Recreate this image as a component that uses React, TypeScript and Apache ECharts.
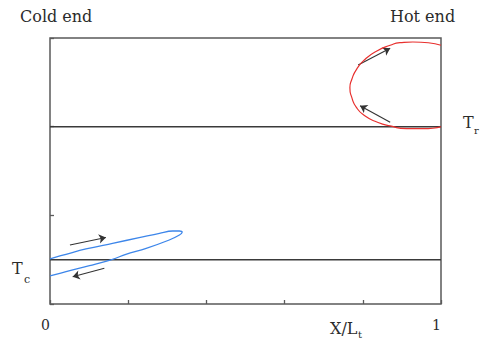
import React, { useEffect, useRef } from "react";
import * as echarts from "echarts";

// Axis ticks along X/Lt (only the ends are labelled)
const xTickValues = [0, 0.2, 0.4, 0.6, 0.8, 1];
const xTickLabels = ["0", "", "", "", "", "1"];

// Temperature levels of the cold and hot reservoirs
const levelTc = 1;
const levelTr = 4;

// Cold-end gas parcel loop (x, temperature)
const coldLoop: [number, number][] = [
  [0, 1.02],
  [0.041, 1.121],
  [0.092, 1.241],
  [0.16, 1.369],
  [0.228, 1.496],
  [0.28, 1.595],
  [0.314, 1.647],
  [0.331, 1.647],
  [0.338, 1.617],
  [0.331, 1.556],
  [0.305, 1.444],
  [0.246, 1.256],
  [0.194, 1.121],
  [0.16, 1.008],
  [0.101, 0.864],
  [0.041, 0.729],
  [0, 0.632],
];

// Hot-end gas parcel loop (x, temperature)
const hotLoop: [number, number][] = [
  [1.0, 5.836],
  [0.928, 5.91],
  [0.895, 5.894],
  [0.87, 5.836],
  [0.836, 5.707],
  [0.806, 5.52],
  [0.784, 5.294],
  [0.772, 5.069],
  [0.767, 4.879],
  [0.772, 4.654],
  [0.784, 4.428],
  [0.806, 4.241],
  [0.836, 4.106],
  [0.87, 4.016],
  [0.912, 3.954],
  [0.954, 3.954],
  [1.0, 3.999],
];

// Direction arrows (from, to)
const coldArrows: [number, number][][] = [
  [[0.051, 1.331], [0.143, 1.5]],
  [[0.139, 0.805], [0.058, 0.615]],
];
const hotArrows: [number, number][][] = [
  [[0.788, 5.391], [0.87, 5.768]],
  [[0.87, 4.099], [0.793, 4.473]],
];

const FONT = '"DejaVu Serif", "Liberation Serif", serif';
const INK = "#2b2b2b";
const FRAME = "#5a5a5a";

export default function App() {
  const ref = useRef<HTMLDivElement | null>(null);

  useEffect(() => {
    if (!ref.current) return;
    const chart = echarts.init(ref.current, undefined, { renderer: "svg" });

    const text = (t: string, x: number, y: number, size: number, align = "left") => ({
      type: "text",
      x,
      y,
      style: {
        text: t,
        font: `${size}px ${FONT}`,
        fill: INK,
        textAlign: align,
        textVerticalAlign: "middle",
      },
    });

    chart.setOption({
      animation: false,
      backgroundColor: "#ffffff",
      grid: {
        left: 50,
        right: 39,
        top: 38,
        bottom: 40,
        show: true,
        borderColor: FRAME,
        borderWidth: 1.5,
      },
      xAxis: {
        type: "value",
        min: 0,
        max: 1,
        interval: 0.2,
        axisLine: { show: false },
        axisTick: { show: true, inside: true, length: 4, lineStyle: { color: FRAME, width: 1.3 } },
        splitLine: { show: false },
        axisLabel: {
          margin: 14,
          align: "right",
          fontFamily: FONT,
          fontSize: 14,
          color: INK,
          formatter: (v: number) => {
            const i = xTickValues.findIndex((t) => Math.abs(t - v) < 1e-6);
            return i >= 0 ? xTickLabels[i] : "";
          },
        },
      },
      yAxis: {
        type: "value",
        min: 0,
        max: 6,
        interval: 2,
        axisLine: { show: false },
        axisTick: { show: true, inside: true, length: 4, lineStyle: { color: FRAME, width: 1.3 } },
        splitLine: { show: false },
        axisLabel: { show: false },
      },
      series: [
        {
          type: "line",
          data: [[0, levelTc], [1, levelTc]],
          symbol: "none",
          lineStyle: { color: "#3a3a3a", width: 1.5 },
        },
        {
          type: "line",
          data: [[0, levelTr], [1, levelTr]],
          symbol: "none",
          lineStyle: { color: "#3a3a3a", width: 1.5 },
        },
        {
          type: "line",
          data: coldLoop,
          symbol: "none",
          smooth: 0.4,
          lineStyle: { color: "#3d86ea", width: 1.3 },
        },
        {
          type: "line",
          data: hotLoop,
          symbol: "none",
          smooth: 0.6,
          lineStyle: { color: "#e8302e", width: 1.2 },
        },
        {
          type: "lines",
          coordinateSystem: "cartesian2d",
          symbol: ["none", "arrow"],
          symbolSize: 7,
          lineStyle: { color: "#333333", width: 1.1, opacity: 1 },
          data: [...coldArrows, ...hotArrows].map((c) => ({ coords: c })),
        },
      ],
      graphic: [
        text("Cold end", 20, 16, 16),
        text("Hot end", 390, 16, 16),
        text("T", 463, 122, 16),
        text("r", 474, 130, 10),
        text("T", 12, 268, 16),
        text("c", 24, 279, 11),
        text("X/L", 330, 328, 16),
        text("t", 358, 334, 10),
      ],
    });

    return () => chart.dispose();
  }, []);

  return (
    <div
      ref={ref}
      style={{ position: "fixed", left: 0, top: 0, width: 480, height: 344 }}
    />
  );
}
